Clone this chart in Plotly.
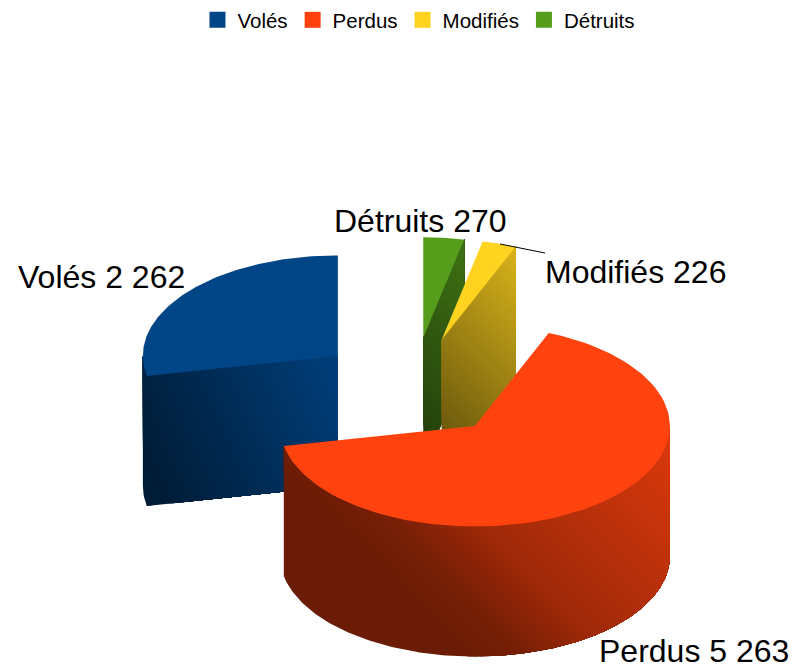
import numpy as np
import plotly.graph_objects as go

# --- data ---
categories = ["Volés", "Perdus", "Modifiés", "Détruits"]
values = [2262, 5263, 226, 270]
value_labels = ["2 262", "5 263", "226", "270"]
colors = [(0, 69, 134), (255, 66, 14), (255, 211, 32), (87, 157, 28)]

# --- pie geometry (pixels of the page) ---
CX, CY = 413, 387.5
RX, RY = 195, 100.5
DEPTH = 130
EXPLODE = 97

# wall shading: (x - tilt * y) position -> brightness
TILT = [0.45, 1.0, 1.0, 1.0]
SHADES = [
    ([-60, 175], [0.42, 0.92]),
    ([-195, -130, -50, 230], [0.42, 0.47, 0.62, 0.86]),
    ([12, 265], [0.43, 0.85]),
    ([-7, 219], [0.42, 0.72]),
]
LABEL_POS = [(101.5, 277), (694, 651), (635.5, 272), (420, 221)]
LEADER = ([500, 545], [244, 253])

fracs = np.array(values) / sum(values)
sweeps = 360 * fracs
starts = 90 + np.concatenate([[0], np.cumsum(sweeps)[:-1]])

fig = go.Figure()

# legend entries
for name, c in zip(categories, colors):
    fig.add_trace(go.Scatter(x=[None], y=[None], mode="markers", name=name,
                             marker=dict(symbol="square", size=16, color=f"rgb{c}")))


def poly(px, py, col):
    fig.add_trace(go.Scatter(x=[float(v) for v in px] + [float(px[0])],
                             y=[float(v) for v in py] + [float(py[0])],
                             mode="lines", fill="toself", fillcolor=col,
                             line=dict(color=col, width=0), showlegend=False,
                             hoverinfo="skip"))


def clip(pts, t_min, tilt):
    """Keep the part of a polygon where x - tilt * y >= t_min."""
    out = []
    n = len(pts)
    for i in range(n):
        a, b = pts[i], pts[(i + 1) % n]
        ta, tb = a[0] - tilt * a[1], b[0] - tilt * b[1]
        if ta >= t_min:
            out.append(a)
        if (ta >= t_min) != (tb >= t_min):
            u = (t_min - ta) / (tb - ta)
            out.append((a[0] + u * (b[0] - a[0]), a[1] + u * (b[1] - a[1])))
    return out


def wall(p_top, base, shade, tilt):
    """Extrude an upper edge by DEPTH and paint it dark to bright,
    each shade level covering the part of the wall beyond its threshold."""
    outline = [tuple(p) for p in p_top] + [(p[0], p[1] + DEPTH) for p in p_top[::-1]]
    ts, ss = shade
    for s in np.arange(ss[0], ss[-1] + 0.0001, 0.005):
        region = clip(outline, float(np.interp(s, ss, ts)), tilt)
        if s == ss[0]:
            region = outline
        if len(region) < 3:
            continue
        col = "rgb(%d,%d,%d)" % tuple(int(round(v * s)) for v in base)
        poly([p[0] for p in region], [p[1] for p in region], col)


def ell(cx, cy, deg):
    a = np.radians(deg)
    return np.column_stack([cx + RX * np.cos(a), cy - RY * np.sin(a)])


def cut(cx, cy, deg):
    e = ell(cx, cy, np.array([deg]))[0]
    return np.array([[cx, cy], e])


geom = []
for i in range(len(values)):
    a0, a1 = starts[i], starts[i] + sweeps[i]
    mid = np.radians((a0 + a1) / 2)
    geom.append((CX + EXPLODE * np.cos(mid), CY - EXPLODE * RY / RX * np.sin(mid), a0, a1))

for i in [3, 0, 2, 1]:  # back-to-front painting order
    cx, cy, a0, a1 = geom[i]
    if i == 0:  # Volés: sliver of outer wall (running slightly under the cut face), then cut face
        edge = cut(cx, cy, a1)
        under = edge[1] + 0.03 * (edge[0] - edge[1])
        sliver = np.vstack([ell(cx, cy, np.linspace(180, a1, 8)), under])
        wall(sliver, colors[i], SHADES[i], TILT[i])
        wall(edge, colors[i], SHADES[i], TILT[i])
    elif i == 1:  # Perdus: front outer wall
        wall(ell(cx, cy, np.arange(a0, 360.01, 1.0)), colors[i], SHADES[i], TILT[i])
    else:  # Small slices: the cut at their lower angle faces the viewer
        wall(cut(cx, cy, a0), colors[i], SHADES[i], TILT[i])
    arc = ell(cx, cy, np.linspace(a0, a1, 120))
    poly([cx] + list(arc[:, 0]), [cy] + list(arc[:, 1]), "rgb(%d,%d,%d)" % colors[i])

# leader line of "Modifiés"
fig.add_trace(go.Scatter(x=LEADER[0], y=LEADER[1], mode="lines", showlegend=False,
                         line=dict(color="black", width=1), hoverinfo="skip"))

annotations = [
    dict(x=p[0], y=p[1], text=f"{c} {v}", showarrow=False, xanchor="center", yanchor="middle",
         font=dict(size=32, color="black", family="Liberation Sans"))
    for c, v, p in zip(categories, value_labels, LABEL_POS)
]

fig.update_layout(
    width=792, height=669, margin=dict(l=0, r=0, t=0, b=0),
    paper_bgcolor="white", plot_bgcolor="white",
    xaxis=dict(range=[0, 792], visible=False, fixedrange=True),
    yaxis=dict(range=[669, 0], visible=False, fixedrange=True),
    annotations=annotations,
    legend=dict(orientation="h", x=0.529, xanchor="center", y=1.0, yanchor="top",
                font=dict(size=20.5, color="black", family="Liberation Sans"),
                traceorder="normal", itemclick=False, itemdoubleclick=False),
)
fig.write_html("out.html", post_script="document.body.style.margin='0';",
               config=dict(displayModeBar=False))
